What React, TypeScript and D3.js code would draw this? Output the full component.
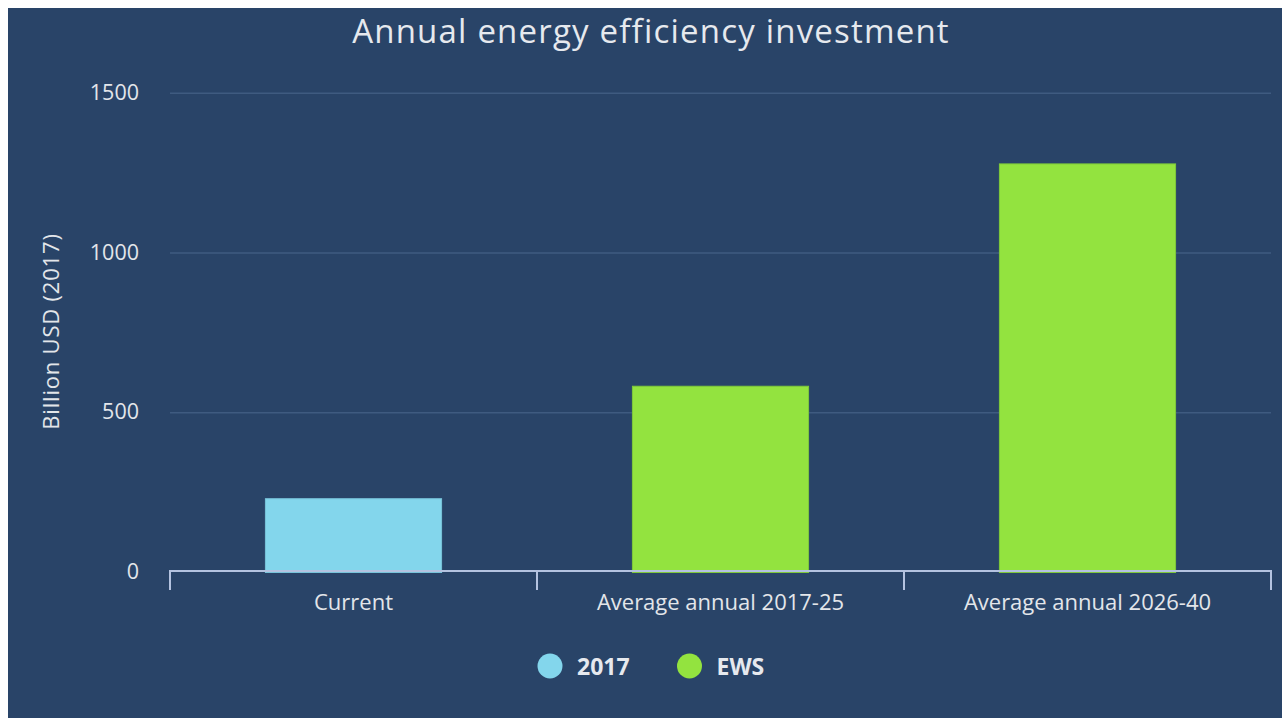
import React from "react";
import * as d3 from "d3";

const categories = ["Current", "Average annual 2017-25", "Average annual 2026-40"];
const values = [231, 583, 1279];
const seriesOfBar = ["2017", "EWS", "EWS"];
const seriesNames = ["2017", "EWS"];
const seriesColors = ["#83d6ec", "#93e33f"];
const yTicks = [0, 500, 1000, 1500];

const W = 1274;
const H = 710;
const FONT = "'Open Sans', 'Noto Sans', sans-serif";

export default function App() {
  // coordinates relative to svg (svg placed at 8,8)
  const left = 170 - 8;
  const right = 1271 - 8;
  const y = d3.scaleLinear().domain([0, 1500]).range([572.5 - 8, 93.3 - 8]);
  const x = d3.scaleBand<string>().domain(categories).range([left, right]).paddingInner(0.52).paddingOuter(0.26);
  const band = d3.scaleBand<string>().domain(categories).range([left, right]);
  const color = d3.scaleOrdinal<string, string>().domain(seriesNames).range(seriesColors);
  const axisY = 571 - 8;

  return (
    <svg width={W} height={H} style={{ position: "fixed", left: 8, top: 8, display: "block" }} fontFamily={FONT}>
      <rect x={0} y={0} width={W} height={H} fill="#294468" />
      <text x={651 - 8} y={43 - 8} textAnchor="middle" fill="#e6e9ee" fontSize={33} letterSpacing={1.2}>
        Annual energy efficiency investment
      </text>
      {yTicks.map((t) => (
        <g key={t}>
          {t !== 0 && (
            <line x1={left} x2={right} y1={y(t)} y2={y(t)} stroke="#3f5b80" strokeWidth={1.5} />
          )}
          <text x={139 - 8} y={y(t) + 6.5} textAnchor="end" fill="#e3e6ea" fontSize={21.5}>
            {t}
          </text>
        </g>
      ))}
      <text
        transform={`translate(${59 - 8},${331.5 - 8}) rotate(-90)`}
        textAnchor="middle"
        fill="#e3e6ea"
        fontSize={22}
        letterSpacing={0.8}
      >
        Billion USD (2017)
      </text>
      {categories.map((c, i) => (
        <rect
          key={c}
          x={x(c)}
          y={y(values[i])}
          width={x.bandwidth()}
          height={y(0) - y(values[i])}
          fill={color(seriesOfBar[i])}
          stroke={seriesOfBar[i] === "EWS" ? "#7fc93a" : "#78c4da"}
          strokeWidth={1}
        />
      ))}
      <line x1={left - 1} x2={right + 1} y1={axisY} y2={axisY} stroke="#b4c3e0" strokeWidth={2} />
      {[...categories.map((c) => band(c) as number), right].map((tx, i) => (
        <line key={i} x1={tx} x2={tx} y1={axisY} y2={axisY + 19} stroke="#b4c3e0" strokeWidth={2} />
      ))}
      {categories.map((c) => (
        <text
          key={c}
          x={(band(c) as number) + band.bandwidth() / 2}
          y={610 - 8}
          textAnchor="middle"
          fill="#e3e6ea"
          fontSize={22}
        >
          {c}
        </text>
      ))}
      {seriesNames.map((s, i) => {
        const cx = [550, 689.5][i] - 8;
        return (
          <g key={s}>
            <circle cx={cx} cy={666 - 8} r={12.5} fill={color(s)} />
            <text x={cx + 27} y={675 - 8} fill="#e6e9ee" fontSize={23} fontWeight="bold">
              {s}
            </text>
          </g>
        );
      })}
    </svg>
  );
}
